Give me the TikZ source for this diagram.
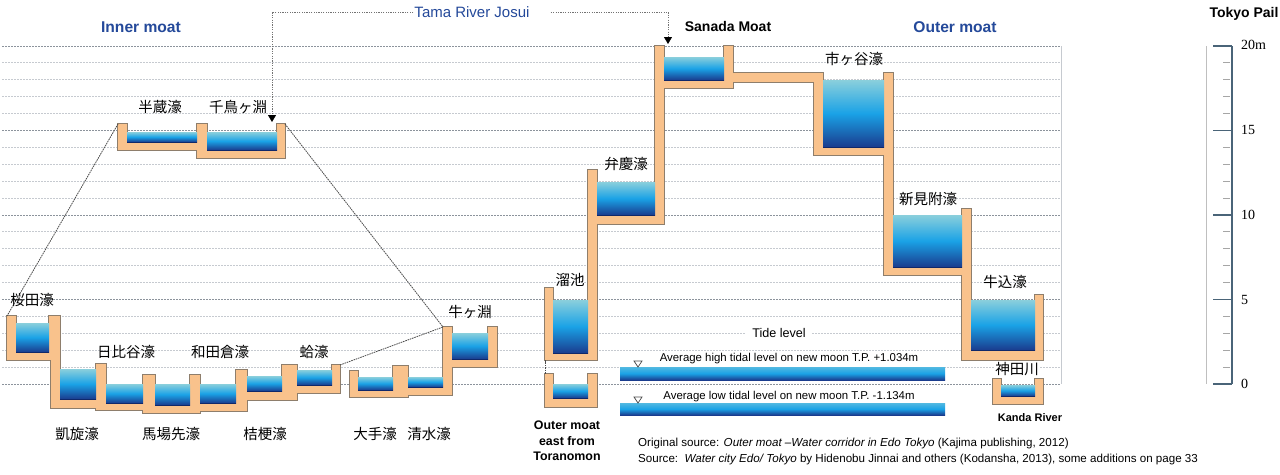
\documentclass[tikz,border=0pt]{standalone}
\usepackage{fontspec}
\setmainfont{Liberation Sans}
\newfontfamily\jp{Noto Sans CJK JP}
\newfontfamily\numfont{Liberation Serif}
\usetikzlibrary{arrows.meta}
\definecolor{orfill}{HTML}{F9C28C}
\definecolor{orline}{HTML}{8E7E6C}
\definecolor{wtop}{HTML}{8ACFDC}
\definecolor{wmid}{HTML}{1AA2E6}
\definecolor{wbot}{HTML}{1A3C8E}
\definecolor{wline}{HTML}{10286A}
\definecolor{titleblue}{HTML}{24499A}
\definecolor{gridlight}{HTML}{C6CAD0}
\definecolor{griddark}{HTML}{8C939C}
\definecolor{scaledark}{HTML}{4A6478}
\tikzset{
  gridln/.style={gridlight, line width=0.9pt, dash pattern=on 1.5pt off 1.5pt},
  gridmajor/.style={griddark, line width=0.9pt, dash pattern=on 1.5pt off 1.5pt},
  jplab/.style={font=\jp\fontsize{14.5}{16}\selectfont, inner sep=1pt},
  titlelab/.style={font=\bfseries\fontsize{15.6}{18}\selectfont, text=titleblue, inner sep=1pt},
  blacktitle/.style={font=\bfseries\fontsize{14}{16}\selectfont, inner sep=1pt},
  smallbold/.style={font=\bfseries\fontsize{12.4}{15.5}\selectfont, inner sep=1pt, align=center},
  tidetext/.style={font=\fontsize{11.4}{13}\selectfont, inner sep=1pt},
  srctext/.style={font=\fontsize{11.6}{13}\selectfont, inner sep=0pt, anchor=west},
  linkline/.style={draw=black!70, line width=0.8pt, dash pattern=on 1.6pt off 0.8pt},
  feedline/.style={draw=black!55, line width=0.8pt, dash pattern=on 1.2pt off 1.2pt},
  feedtip/.style={-{Triangle[width=8pt,length=7pt,fill=black,color=black]}},
  numlab/.style={font=\numfont\fontsize{14}{16}\selectfont, anchor=west, inner sep=0pt},
  waterfill/.style={top color=wtop, bottom color=wbot, middle color=wmid},
}
\def\orangerects{%
7/316/16/360, 7/352/60/360, 49/316/60/360, 51/352/60/408, 51/399/106/408,
96/364/106/410, 96/403/155/410, 143/375/155/413, 143/405/200/413,
190/375/200/413, 190/403/243/411, 236/370/247/411, 236/391/290/400,
282/365/297/400, 282/385/340/393, 332/365/340/393,
350/371/358/397, 350/390/408/397, 393/366/408/397, 393/387/452/395,
443/327/452/395, 443/359/497/367, 488/327/497/367,
118/124/127/150, 118/142/207/150, 197/124/207/158, 197/150/285/158, 277/124/285/158,
545/288/553/360, 545/353/597/360, 588/170/597/360, 588/215/664/224,
655/46/664/224, 655/80/733/88, 724/46/733/88, 724/73/823/82,
814/73/823/155, 814/147/893/155, 884/73/893/275, 884/267/971/275,
962/209/971/360, 962/350/1043/360, 1035/295/1043/360,
545/374/553/407, 545/398/597/407, 588/374/597/407,
993/379/1001/404, 993/396/1043/404, 1035/379/1043/404}
\def\waterrects{%
16/323/49/352, 60/369/96/399, 106/384/143/403, 155/384/190/405,
200/384/236/403, 247/376/282/391, 297/370/332/385,
358/377/393/390, 408/377/443/387, 452/333/488/359,
127/132/197/142, 207/132/277/150,
553/300/588/353, 597/182/655/215, 664/57/724/80, 823/80/884/147,
893/215/962/267, 971/300/1035/350, 553/384/588/398, 1001/385/1035/396}
\begin{document}
\begin{tikzpicture}[x=1pt,y=-1pt]
\useasboundingbox (0,0) rectangle (1280,474);
\fill[white] (0,0) rectangle (1280,474);
% grid
\foreach \m in {0,...,20}{
  \pgfmathsetmacro{\yy}{384-16.9*\m}
  \pgfmathtruncatemacro{\r}{mod(\m,5)}
  \ifnum\r=0
    \draw[gridmajor] (2,\yy) -- (1061,\yy);
  \else
    \draw[gridln] (2,\yy) -- (1061,\yy);
  \fi
}
\draw[gridlight, line width=0.9pt] (1061,46) -- (1061,384);
% orange walls (union outline)
\foreach \a/\b/\c/\d in \orangerects { \draw[orline, line width=1.6pt] (\a,\b) rectangle (\c,\d); }
\foreach \a/\b/\c/\d in \orangerects { \fill[orfill] (\a,\b) rectangle (\c,\d); }
% water
\foreach \a/\b/\c/\d in \waterrects {
  \shade[waterfill] (\a,\b) rectangle (\c,\d);
  \draw[wline, line width=1pt] (\a,\d) -- (\c,\d);
}
% tide bars
\shade[top color=wtop!50!wmid, bottom color=wbot, middle color=wmid] (620,367) rectangle (945,380);
\shade[top color=wtop!50!wmid, bottom color=wbot, middle color=wmid] (620,403) rectangle (945,415);
\draw[black!70, fill=white, line width=0.7pt] (634,361) -- (642,361) -- (638,367) -- cycle;
\draw[black!70, fill=white, line width=0.7pt] (634,397) -- (642,397) -- (638,403) -- cycle;
% named corners
\coordinate (hanzoTL) at (118,124);
\coordinate (sakuraTL) at (7,316);
\coordinate (chidoriTR) at (285,124);
\coordinate (ushiTL) at (443,327);
\coordinate (hamaTR) at (340,365);
\coordinate (tameBL) at (545,360);
\coordinate (toraTL) at (545,374);
\coordinate (chidoriIn) at (272,122);
\coordinate (sanadaIn) at (668,44);
\draw[linkline] (hanzoTL) -- (sakuraTL);
\draw[linkline] (chidoriTR) -- (ushiTL);
\draw[linkline] (hamaTR) -- (ushiTL);
\draw[linkline] (tameBL) -- (toraTL);
% titles
\node[titlelab] (inner) at (141,27) {Inner moat};
\node[titlelab] (outer) at (955,27) {Outer moat};
\node[blacktitle] (sanada) at (728,26) {Sanada Moat};
\node[blacktitle] (pail) at (1244,14) {Tokyo Pail};
\node[font=\fontsize{15}{17}\selectfont, text=titleblue, inner sep=1pt] (tama) at (472,12) {Tama River Josui};
\draw[feedline, feedtip] (tama.west) -| (chidoriIn);
\draw[feedline, feedtip, shorten <=20pt] (tama.east) -| (sanadaIn);
% japanese labels
\node[jplab] (sakurada) at (32,300) {桜田濠};
\node[jplab] (hanzo) at (160,107) {半蔵濠};
\node[jplab] (chidori) at (238,107) {千鳥ヶ淵};
\node[jplab] (hibiya) at (126,352) {日比谷濠};
\node[jplab] (wadakura) at (220,352) {和田倉濠};
\node[jplab] (hamaguri) at (314,352) {蛤濠};
\node[jplab] (ushigafuchi) at (470,312) {牛ヶ淵};
\node[jplab] (gaisen) at (77,434) {凱旋濠};
\node[jplab] (babasaki) at (171,434) {馬場先濠};
\node[jplab] (kikyo) at (265,434) {桔梗濠};
\node[jplab] (ote) at (375,434) {大手濠};
\node[jplab] (shimizu) at (429,434) {清水濠};
\node[jplab] (benkei) at (626,164) {弁慶濠};
\node[jplab] (ichigaya) at (854,59) {市ヶ谷濠};
\node[jplab] (shinmitsuke) at (928,199) {新見附濠};
\node[jplab] (tameike) at (570,280) {溜池};
\node[jplab] (ushigome) at (1005,282) {牛込濠};
\node[jplab, fill=white] (kanda) at (1017,369) {神田川};
% english labels
\node[smallbold] (toranomon) at (567,441) {Outer moat\\east from\\Toranomon};
\node[font=\bfseries\fontsize{11}{13}\selectfont, inner sep=1pt] (kandaen) at (1030,418) {Kanda River};
\node[font=\fontsize{12.6}{14}\selectfont, fill=white, inner xsep=6pt, inner ysep=1pt] (tide) at (779,333) {Tide level};
\node[tidetext] (hightide) at (789,359) {Average high tidal level on new moon T.P. +1.034m};
\node[tidetext] (lowtide) at (789,397) {Average low tidal level on new moon T.P. -1.134m};
\node[srctext] (src1) at (638,443) {Original source: \textit{Outer moat –Water corridor in Edo Tokyo} (Kajima publishing, 2012)};
\node[srctext] (src2) at (638,459) {Source:\ \ \textit{Water city Edo/ Tokyo} by Hidenobu Jinnai and others (Kodansha, 2013), some additions on page 33};
% scale bar
\draw[black!25, line width=0.9pt] (1206,46) -- (1206,384);
\draw[scaledark, line width=1.3pt] (1232,46) -- (1232,384);
\foreach \m in {0,...,20}{
  \pgfmathsetmacro{\yy}{384-16.9*\m}
  \pgfmathtruncatemacro{\r}{mod(\m,5)}
  \ifnum\r=0
    \draw[scaledark, line width=1.3pt] (1213,\yy) -- (1232,\yy);
  \else
    \draw[black!35, line width=0.9pt] (1223,\yy) -- (1230,\yy);
  \fi
}
\node[numlab] (s20) at (1241,45) {20m};
\node[numlab] (s15) at (1241,130) {15};
\node[numlab] (s10) at (1241,215) {10};
\node[numlab] (s5) at (1241,300) {5};
\node[numlab] (s0) at (1241,384) {0};
\end{tikzpicture}
\end{document}
